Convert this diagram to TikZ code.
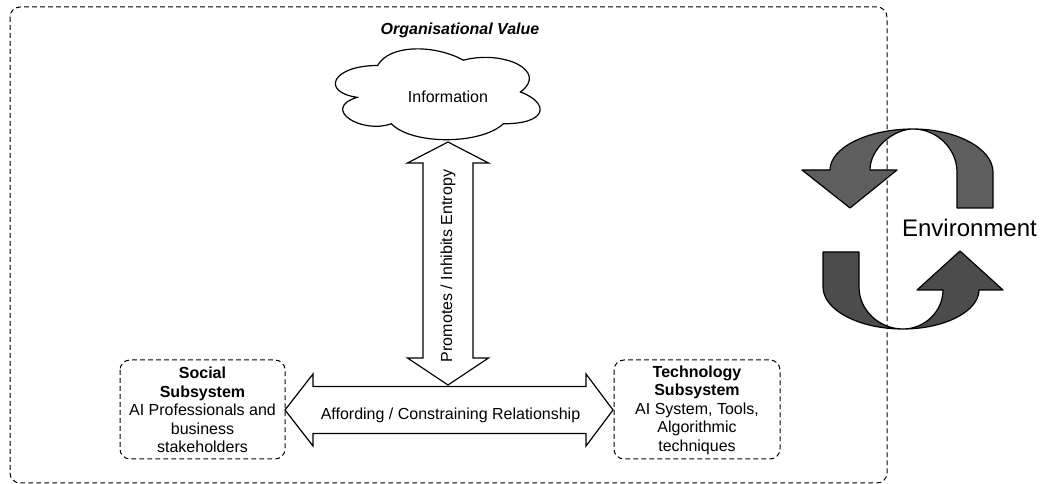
\documentclass[tikz,border=0pt]{standalone}
\usepackage{fontspec}
\setmainfont{Liberation Sans}
\begin{document}
\begin{tikzpicture}[x=0.75pt,y=-0.75pt,
  dashbox/.style={draw=black, line width=0.75pt, dash pattern=on 3.6pt off 2.4pt, rounded corners=7.5pt},
  blockarrow/.style={draw=black, line width=0.9pt, fill=white, line join=miter},
  cyclearrow/.style={draw=black, line width=0.9pt, line join=round},
  label/.style={font=\fontsize{12pt}{13.9pt}\selectfont, align=center, inner sep=0pt}]
\definecolor{cycleTop}{HTML}{5E5E5E}
\definecolor{cycleBot}{HTML}{4C4C4C}
\useasboundingbox (0,0) rectangle (1040,484);

% organisational boundary
\draw[dashbox] (10,7) rectangle (887,483);
\node[label, font=\fontsize{12pt}{14pt}\selectfont\bfseries\itshape] (title) at (460,30) {Organisational Value};

% information cloud
\begin{scope}[shift={(320.5,39)}, x=171.4pt, y=-79.5pt]
  \draw[line width=0.9pt, fill=white]
    (0.25,0.25) .. controls (0.05,0.25) and (0,0.5) .. (0.16,0.55)
    .. controls (0,0.66) and (0.18,0.9) .. (0.31,0.8)
    .. controls (0.4,1) and (0.7,1) .. (0.8,0.8)
    .. controls (1,0.8) and (1,0.6) .. (0.875,0.5)
    .. controls (1,0.3) and (0.8,0.1) .. (0.625,0.2)
    .. controls (0.5,0.05) and (0.3,0.05) .. (0.25,0.25) -- cycle;
\end{scope}
\node[label] (info) at (448,97) {Information};

% subsystems
\draw[dashbox] (120,360) rectangle (285,459);
\node[label] (social) at (202.5,410) {\textbf{Social}\\\textbf{Subsystem}\\AI Professionals and\\business\\stakeholders};
\draw[dashbox] (614,360) rectangle (780,459);
\node[label] (tech) at (697,410) {\textbf{Technology}\\\textbf{Subsystem}\\AI System, Tools,\\Algorithmic\\techniques};

% promotes / inhibits entropy (vertical double arrow)
\draw[blockarrow] (448,142) -- (488.5,163) -- (473,163) -- (473,358) -- (488.5,358)
  -- (448,385) -- (407.5,358) -- (423,358) -- (423,163) -- (407.5,163) -- cycle;
\node[label, rotate=90] (entropy) at (448,266) {Promotes / Inhibits Entropy};

% affording / constraining relationship (horizontal double arrow)
\draw[blockarrow] (285,410) -- (313,374) -- (313,386.5) -- (586,386.5) -- (586,374)
  -- (613,410) -- (586,446) -- (586,433.5) -- (313,433.5) -- (313,446) -- cycle;
\node[label] (afford) at (450.5,415) {Affording / Constraining Relationship};

% environment cycle
\draw[cyclearrow, fill=cycleTop]
  (957,208) -- (993,208) -- (993,172)
  .. controls (993,149) and (957,129) .. (913,129)
  .. controls (867,129) and (830,148) .. (830,170)
  -- (802,170) -- (850,208) -- (897,170) -- (870,170)
  .. controls (870,148) and (894,129) .. (913,129)
  .. controls (937,129) and (957,149) .. (957,172) -- cycle;
\draw[cyclearrow, fill=cycleBot]
  (823,252) -- (859,252) -- (859,287)
  .. controls (859,310) and (879,329) .. (903,329)
  .. controls (925,329) and (943,311) .. (943,290)
  -- (917,290) -- (960,251) -- (1003,290) -- (979,290)
  .. controls (979,311) and (945,329) .. (903,329)
  .. controls (859,329) and (823,310) .. (823,287) -- cycle;
\node[label, font=\fontsize{18pt}{21pt}\selectfont] (env) at (969.5,228) {Environment};
\end{tikzpicture}
\end{document}
